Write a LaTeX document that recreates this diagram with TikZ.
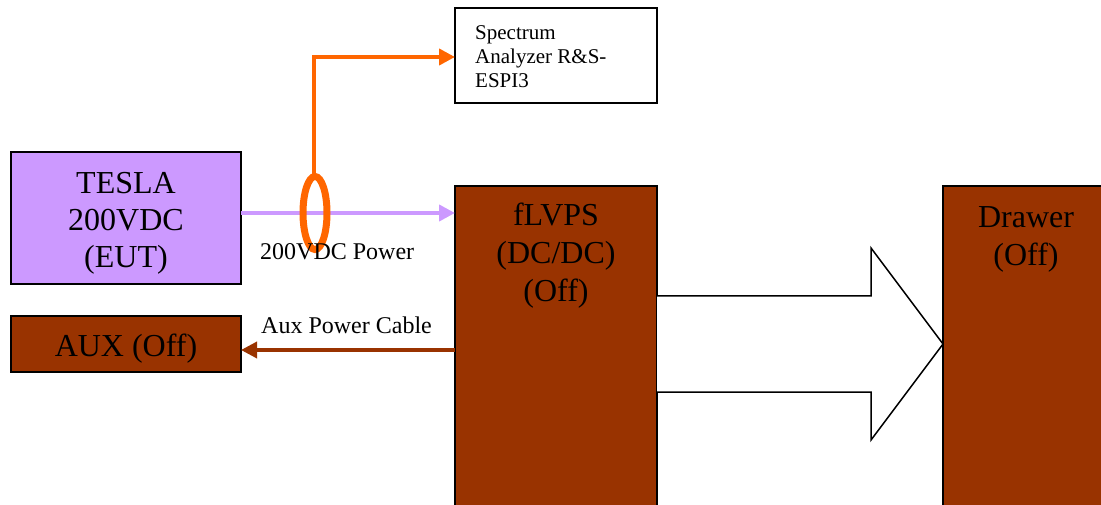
\documentclass[tikz,border=0pt]{standalone}
\usepackage{fontspec}
\setmainfont{Liberation Serif}
\usetikzlibrary{arrows.meta}
\definecolor{lav}{HTML}{CC99FF}
\definecolor{brn}{HTML}{993300}
\definecolor{org}{HTML}{FF6600}
\tikzset{
  box/.style={draw=black, line width=2pt, inner sep=0pt, outer sep=0pt, anchor=north west},
  big/.style={font=\fontsize{32}{37}\selectfont, align=center, inner sep=0pt},
  bigb/.style={font=\fontsize{32}{38}\selectfont, align=center, inner sep=0pt},
  small/.style={font=\fontsize{24}{28}\selectfont, inner sep=0pt, anchor=west},
  tip/.style={-{Triangle[length=16pt,width=16pt]}}
}
\begin{document}
\begin{tikzpicture}[x=1pt,y=-1pt]
\useasboundingbox (0,0) rectangle (1101,505);
\fill[white] (0,0) rectangle (1101,505);
% boxes
\node[box, fill=lav, minimum width=230pt, minimum height=132pt] (tesla) at (11,152) {};
\node[big] (t1) at (126,223) {TESLA\\200VDC\\(EUT)};
\node[box, fill=brn, minimum width=230pt, minimum height=56pt] (aux) at (11,316) {};
\node[big] (t2) at (126,349) {AUX (Off)};
\node[box, fill=white, minimum width=202pt, minimum height=95pt] (spec) at (455,8) {};
\node[font=\fontsize{21}{24}\selectfont, align=left, inner sep=0pt, anchor=west] (t3) at (475,57) {Spectrum\\Analyzer R\&S-\\ESPI3};
\node[box, fill=brn, minimum width=202pt, minimum height=330pt] (flvps) at (455,186) {};
\node[bigb] (t4) at (556,256) {fLVPS\\(DC/DC)\\(Off)};
\node[box, fill=brn, minimum width=170pt, minimum height=330pt] (drawer) at (943,186) {};
\node[bigb] (t5) at (1026,239) {Drawer\\(Off)};
% big arrow
\draw[line width=1.5pt, fill=white] (flvps.east |- 0,296) -- (871,296) -- (871,248) -- (943,344) -- (871,440) -- (871,392) -- (flvps.east |- 0,392);
% ring and connectors
\coordinate (ring) at (315,213);
\draw[lav, line width=4pt, tip] (tesla.east |- ring) -- (flvps.west |- ring);
\draw[org, line width=7pt] (ring) ellipse [x radius=12pt, y radius=36.5pt];
\coordinate (ringtop) at (314,176);
\draw[org, line width=4pt, tip] (ringtop) |- (spec.west |- 0,57);
\draw[brn, line width=3.5pt, tip] (flvps.west |- 0,350) -- (aux.east |- 0,350);
\node[small] (l1) at (260,252) {200VDC Power};
\node[small] (l2) at (261,325) {Aux Power Cable};
\end{tikzpicture}
\end{document}
